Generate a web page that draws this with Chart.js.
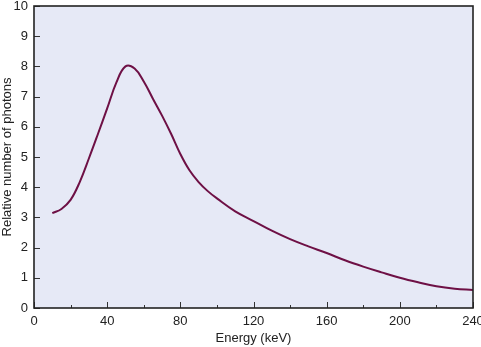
<!DOCTYPE html>
<html>
<head>
<meta charset="utf-8">
<script src="https://cdn.jsdelivr.net/npm/chart.js@4"></script>
<style>
  html, body { margin: 0; padding: 0; background: #fff; }
  canvas { display: block; }
</style>
</head>
<body>
<canvas id="myChart" width="481" height="347"></canvas>
<script>
// energy in keV and relative number of photons
var energy = [10, 15, 20, 25, 30, 35, 40, 45, 50, 55, 60, 65, 70, 75, 80, 85, 90, 95, 100,
              110, 120, 130, 140, 150, 160, 170, 180, 190, 200, 210, 220, 230, 240];
var photons = [3.14, 3.28, 3.58, 4.17, 4.95, 5.77, 6.61, 7.46, 8.0, 7.93, 7.5, 6.93, 6.37, 5.76, 5.1, 4.56, 4.17, 3.87, 3.63,
               3.2, 2.88, 2.56, 2.28, 2.04, 1.82, 1.58, 1.37, 1.18, 1.0, 0.85, 0.72, 0.64, 0.6];
var xTicks = [0, 40, 80, 120, 160, 200, 240];
var xMinorTicks = [20, 60, 100, 140, 180, 220];
var yTicks = [0, 1, 2, 3, 4, 5, 6, 7, 8, 9, 10];

var points = energy.map(function (e, i) { return { x: e, y: photons[i] }; });

// plot background, frame and inward tick marks
var framePlugin = {
  id: 'frame',
  beforeDraw: function (chart) {
    var a = chart.chartArea, ctx = chart.ctx;
    ctx.save();
    ctx.fillStyle = '#e6e9f6';
    ctx.fillRect(a.left, a.top, a.right - a.left, a.bottom - a.top);
    ctx.restore();
  },
  afterDraw: function (chart) {
    var a = chart.chartArea, ctx = chart.ctx;
    var xs = chart.scales.x, ys = chart.scales.y;
    ctx.save();
    ctx.strokeStyle = '#333';
    ctx.lineWidth = 1;
    ctx.beginPath();
    yTicks.forEach(function (v) {
      var py = Math.round(ys.getPixelForValue(v)) + 0.5;
      ctx.moveTo(a.left, py);
      ctx.lineTo(a.left + 6, py);
    });
    xTicks.forEach(function (v) {
      var px = Math.round(xs.getPixelForValue(v)) + 0.5;
      ctx.moveTo(px, a.bottom);
      ctx.lineTo(px, a.bottom - 6);
    });
    xMinorTicks.forEach(function (v) {
      var px = Math.round(xs.getPixelForValue(v)) + 0.5;
      ctx.moveTo(px, a.bottom);
      ctx.lineTo(px, a.bottom - 3);
    });
    ctx.stroke();
    ctx.strokeStyle = '#222';
    ctx.lineWidth = 1.6;
    ctx.strokeRect(a.left, a.top, a.right - a.left, a.bottom - a.top);
    ctx.restore();
  }
};

Chart.defaults.font.family = '"Liberation Sans", Arial, sans-serif';
Chart.defaults.color = '#222';

new Chart(document.getElementById('myChart').getContext('2d'), {
  type: 'line',
  data: {
    datasets: [{
      label: 'Relative number of photons',
      data: points,
      borderColor: '#6e1045',
      borderWidth: 2,
      pointRadius: 0,
      fill: false,
      tension: 0.4
    }]
  },
  options: {
    responsive: false,
    animation: false,
    layout: { padding: { top: 6, right: 8, left: 0, bottom: 0 } },
    plugins: { legend: { display: false }, tooltip: { enabled: false } },
    scales: {
      x: {
        type: 'linear',
        min: 0,
        max: 240,
        afterBuildTicks: function (s) { s.ticks = xTicks.map(function (v) { return { value: v }; }); },
        afterFit: function (s) { s.height = 39; s.paddingLeft = 0; s.paddingRight = 0; },
        grid: { display: false, drawTicks: false },
        border: { display: false },
        ticks: { padding: 6, font: { size: 13 }, maxRotation: 0 },
        title: { display: true, text: 'Energy (keV)', font: { size: 13 }, padding: { top: 0, bottom: 1 } }
      },
      y: {
        min: 0,
        max: 10,
        afterBuildTicks: function (s) { s.ticks = yTicks.map(function (v) { return { value: v }; }); },
        afterFit: function (s) { s.width = 34; s.paddingTop = 0; s.paddingBottom = 0; },
        grid: { display: false, drawTicks: false },
        border: { display: false },
        ticks: { padding: 6, font: { size: 13 } },
        title: { display: true, text: 'Relative number of photons', font: { size: 13 }, padding: { top: 0, bottom: 0 } }
      }
    }
  },
  plugins: [framePlugin]
});
</script>
</body>
</html>
